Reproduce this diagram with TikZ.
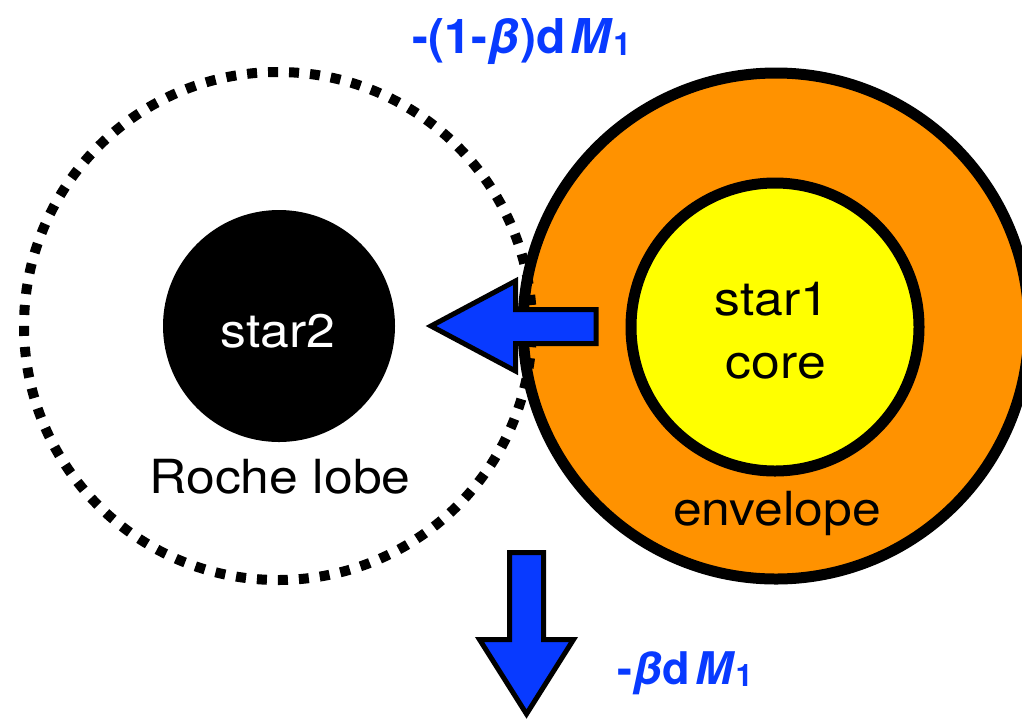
\documentclass[tikz,border=0pt]{standalone}
\usepackage{fontspec}
\setmainfont{TeX Gyre Heros}
\usepackage{graphicx}
\definecolor{arrowblue}{RGB}{8,58,255}
\definecolor{envorange}{RGB}{255,146,0}
\definecolor{coreyellow}{RGB}{255,255,0}
\newcommand{\widetxt}[1]{\scalebox{1.1}[1]{#1}}
\newcommand{\subone}[1]{\raisebox{-2.5pt}{\fontsize{#1}{#1}\selectfont 1}}
\begin{document}
\begin{tikzpicture}[x=1pt,y=-1pt,
  ball/.style={circle,inner sep=0pt,outer sep=0pt},
  rim/.style={draw=black,line width=11pt},
  flowarrow/.style={fill=arrowblue,draw=black,line width=5pt,line join=miter},
  lbl/.style={anchor=base,inner sep=0pt,font=\fontsize{47}{55}\selectfont},
  masslbl/.style={anchor=base,inner sep=0pt,text=arrowblue}]
\useasboundingbox (0,0) rectangle (1022,721);
% star 1: envelope and core
\node[ball,rim,fill=envorange,minimum size=506pt] (env) at (776,326) {};
\node[ball,rim,fill=coreyellow,minimum size=288pt] (core) at (775,327) {};
% Roche lobe of star 2
\node[ball,draw=black,line width=10pt,dash pattern=on 10pt off 11pt,minimum size=508pt] (roche) at (278,326) {};
% star 2
\node[ball,fill=black,minimum size=232pt] (star2) at (279,326) {};
% mass transfer arrow
\draw[flowarrow] (596,309.5) -- (515.5,309.5) -- (515.5,281) -- (431,326) -- (515.5,371) -- (515.5,343.5) -- (596,343.5) -- cycle;
% mass loss arrow
\draw[flowarrow] (509.5,552.5) -- (543.5,552.5) -- (543.5,639.5) -- (573.5,639.5) -- (526.5,714) -- (479.5,639.5) -- (509.5,639.5) -- cycle;
% texts
\node[lbl,text=white] (t2) at (278,347) {\widetxt{star2}};
\node[lbl] (trl) at (280,493) {\widetxt{Roche lobe}};
\node[lbl] (t1) at (772,315) {\widetxt{star1}};
\node[lbl] (tc) at (776,378) {\widetxt{core}};
\node[lbl] (te) at (777,525) {\widetxt{envelope}};
\node[masslbl,font=\bfseries\fontsize{48}{55}\selectfont] (ltop) at (522,53) {-(1-\textit{β})d\hspace{5pt}\textit{M}\subone{32}};
\node[masslbl,font=\bfseries\fontsize{45}{55}\selectfont] (lbot) at (685,684) {-\textit{β}d\hspace{5pt}\textit{M}\subone{31}};
\end{tikzpicture}
\end{document}
